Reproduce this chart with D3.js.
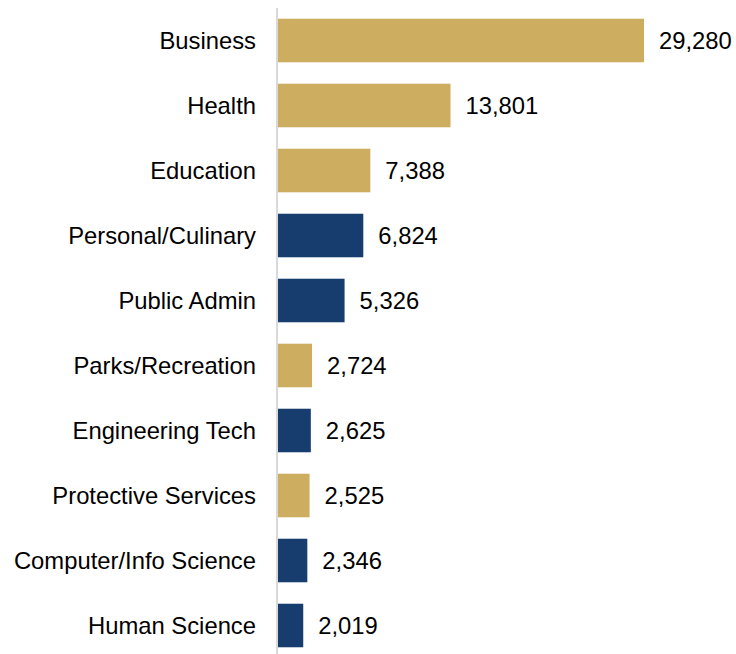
<!DOCTYPE html>
<html>
<head>
<meta charset="utf-8">
<script src="https://cdn.jsdelivr.net/npm/d3@7"></script>
<style>
  html, body { margin: 0; padding: 0; background: #fff; }
  svg { display: block; }
</style>
</head>
<body>
<svg id="chart" width="736" height="654"></svg>
<script>
const categories = ["Business", "Health", "Education", "Personal/Culinary", "Public Admin",
  "Parks/Recreation", "Engineering Tech", "Protective Services", "Computer/Info Science", "Human Science"];
const values = [29280, 13801, 7388, 6824, 5326, 2724, 2625, 2525, 2346, 2019];
const groups = ["gold", "gold", "gold", "navy", "navy", "gold", "navy", "gold", "navy", "navy"];

const colors = { gold: "#CDAD5F", navy: "#173D6E" };

const svg = d3.select("#chart");
const x = d3.scaleLinear().domain([0, 29280]).range([278, 644]);
const y = d3.scaleBand().domain(categories).range([8, 658]).paddingInner(0.33).paddingOuter(0.165);

svg.append("g").selectAll("rect")
  .data(categories)
  .join("rect")
  .attr("x", x(0))
  .attr("y", d => y(d))
  .attr("width", (d, i) => x(values[i]) - x(0))
  .attr("height", y.bandwidth())
  .attr("fill", (d, i) => colors[groups[i]]);

svg.append("line")
  .attr("x1", 277).attr("x2", 277)
  .attr("y1", 8).attr("y2", 654)
  .attr("stroke", "#D9D9D9").attr("stroke-width", 2);

const fs = 23.8;
svg.append("g").selectAll("text")
  .data(categories)
  .join("text")
  .attr("x", 256)
  .attr("y", d => y(d) + y.bandwidth() / 2)
  .attr("dy", "0.35em")
  .attr("text-anchor", "end")
  .attr("font-family", "Liberation Sans, Arial, sans-serif")
  .attr("font-size", fs)
  .attr("fill", "#000")
  .text(d => d);

const fmt = d3.format(",");
svg.append("g").selectAll("text")
  .data(categories)
  .join("text")
  .attr("x", (d, i) => x(values[i]) + 15)
  .attr("y", d => y(d) + y.bandwidth() / 2)
  .attr("dy", "0.35em")
  .attr("font-family", "Liberation Sans, Arial, sans-serif")
  .attr("font-size", fs)
  .attr("fill", "#000")
  .text((d, i) => fmt(values[i]));
</script>
</body>
</html>
